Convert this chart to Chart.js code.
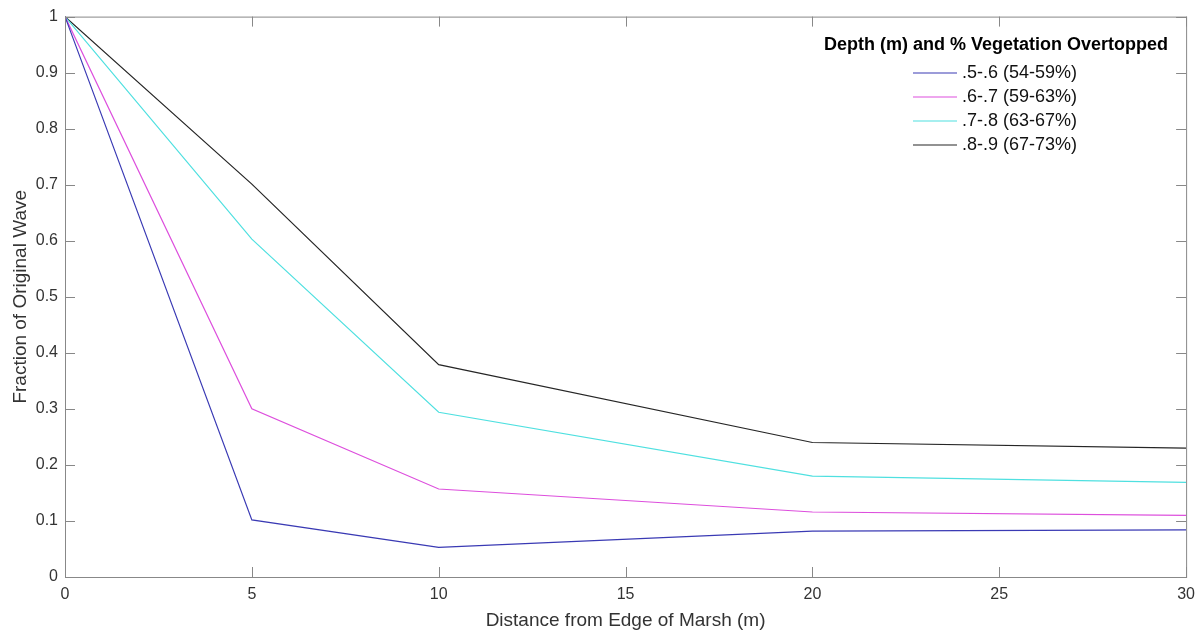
<!DOCTYPE html>
<html>
<head>
<meta charset="utf-8">
<script src="https://cdn.jsdelivr.net/npm/chart.js@4/dist/chart.umd.min.js"></script>
<style>
  html, body { margin: 0; padding: 0; background: #fff; }
  #wrap { width: 1203px; height: 634px; }
</style>
</head>
<body>
<div id="wrap"><canvas id="myChart"></canvas></div>
<script>
const distances = [0, 5, 10, 20, 30];
const depth56 = [1, 0.102, 0.053, 0.082, 0.084];
const depth67 = [1, 0.300, 0.157, 0.116, 0.110];
const depth78 = [1, 0.603, 0.294, 0.180, 0.169];
const depth89 = [1, 0.701, 0.379, 0.240, 0.230];
const seriesLabels = [".5-.6 (54-59%)", ".6-.7 (59-63%)", ".7-.8 (63-67%)", ".8-.9 (67-73%)"];
const legendTitle = "Depth (m) and % Vegetation Overtopped";

const colors = ["#3a3ab4", "#dd4fdd", "#4fe0e0", "#262626"];
const fontFamily = "'Liberation Sans', Arial, sans-serif";

function toPoints(vals) {
    return distances.map((d, i) => ({ x: d, y: vals[i] }));
}

const allSeries = [depth56, depth67, depth78, depth89];

const data = {
    datasets: allSeries.map((vals, i) => ({
        label: seriesLabels[i],
        data: toPoints(vals),
        borderColor: colors[i],
        backgroundColor: colors[i],
        borderWidth: 1.2,
        pointRadius: 0,
        tension: 0,
        fill: false
    }))
};

// box, inward ticks and legend like the original figure
const frame = {
    id: "frame",
    afterDatasetsDraw(chart) {
        const { ctx, chartArea: a, scales } = chart;
        ctx.save();
        ctx.strokeStyle = "#888";
        ctx.lineWidth = 1;
        ctx.strokeRect(a.left + 0.5, a.top + 0.5, a.right - a.left, a.bottom - a.top);
        ctx.beginPath();
        scales.x.ticks.forEach(t => {
            const px = Math.round(scales.x.getPixelForValue(t.value)) + 0.5;
            ctx.moveTo(px, a.bottom); ctx.lineTo(px, a.bottom - 10);
            ctx.moveTo(px, a.top); ctx.lineTo(px, a.top + 10);
        });
        scales.y.ticks.forEach(t => {
            const py = Math.round(scales.y.getPixelForValue(t.value)) + 0.5;
            ctx.moveTo(a.left, py); ctx.lineTo(a.left + 10, py);
            ctx.moveTo(a.right, py); ctx.lineTo(a.right - 10, py);
        });
        ctx.stroke();

        // legend
        ctx.fillStyle = "#000";
        ctx.textBaseline = "middle";
        ctx.textAlign = "center";
        ctx.font = "bold 18px " + fontFamily;
        ctx.fillText(legendTitle, 996, 45);
        ctx.textAlign = "left";
        ctx.font = "18px " + fontFamily;
        chart.data.datasets.forEach((ds, i) => {
            const yy = 73 + i * 24;
            ctx.strokeStyle = ds.borderColor;
            ctx.lineWidth = 1.2;
            ctx.beginPath();
            ctx.moveTo(913, yy); ctx.lineTo(957, yy);
            ctx.stroke();
            ctx.fillStyle = "#111";
            ctx.fillText(ds.label, 962, yy);
        });
        ctx.restore();
    }
};

const config = {
    type: "line",
    data: data,
    options: {
        responsive: true,
        maintainAspectRatio: false,
        animation: false,
        layout: { padding: { left: 9, right: 15, top: 15, bottom: 0 } },
        plugins: {
            legend: { display: false },
            tooltip: { enabled: false }
        },
        scales: {
            x: {
                type: "linear",
                min: 0,
                max: 30,
                afterFit: s => { s.height = 57; },
                ticks: {
                    stepSize: 5,
                    color: "#333",
                    padding: 8,
                    maxRotation: 0,
                    font: { family: fontFamily, size: 16 }
                },
                grid: { drawOnChartArea: false, drawTicks: false },
                border: { color: "#888" },
                title: {
                    display: true,
                    text: "Distance from Edge of Marsh (m)",
                    color: "#333",
                    font: { family: fontFamily, size: 19 },
                    padding: { top: 2, bottom: 2 }
                }
            },
            y: {
                min: 0,
                max: 1,
                afterFit: s => { s.width = 56; },
                ticks: {
                    stepSize: 0.1,
                    color: "#333",
                    padding: 7,
                    font: { family: fontFamily, size: 16 },
                    callback: v => String(Math.round(v * 10) / 10)
                },
                grid: { drawOnChartArea: false, drawTicks: false },
                border: { color: "#888" },
                title: {
                    display: true,
                    text: "Fraction of Original Wave",
                    color: "#333",
                    font: { family: fontFamily, size: 19 },
                    padding: { top: 0, bottom: 2 }
                }
            }
        }
    },
    plugins: [frame]
};

const myChart = new Chart(document.getElementById("myChart"), config);
</script>
</body>
</html>
